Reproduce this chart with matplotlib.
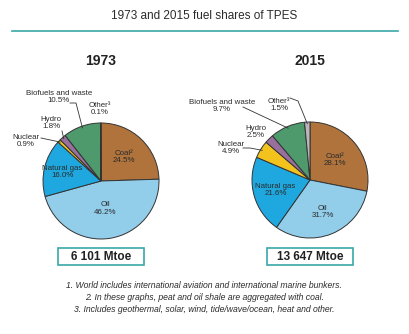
import matplotlib.pyplot as plt
import numpy as np
from matplotlib import font_manager
from matplotlib.patches import Rectangle

# data
fuels = ["Coal²", "Oil", "Natural gas", "Nuclear", "Hydro", "Biofuels and waste", "Other³"]
shares_1973 = [24.5, 46.2, 16.0, 0.9, 1.8, 10.5, 0.1]
shares_2015 = [28.1, 31.7, 21.6, 4.9, 2.5, 9.7, 1.5]
totals = ["6 101 Mtoe", "13 647 Mtoe"]
years = ["1973", "2015"]
colors = ["#b0733c", "#92cdea", "#1ea8df", "#f2c21d", "#98709e", "#4f9a6d", "#b8b8bc"]
footnotes = [
    "1. World includes international aviation and international marine bunkers.",
    "2. In these graphs, peat and oil shale are aggregated with coal.",
    "3. Includes geothermal, solar, wind, tide/wave/ocean, heat and other.",
]

installed = {f.name for f in font_manager.fontManager.ttflist}
if "Liberation Sans Narrow" in installed:
    LABEL_FONT, LABEL_SIZE = ["Liberation Sans Narrow", "DejaVu Sans"], 7
else:
    LABEL_FONT, LABEL_SIZE = ["Liberation Sans", "DejaVu Sans"], 5.7
plt.rcParams['font.family'] = ['Liberation Sans', 'DejaVu Sans']

W, H = 409, 334
fig = plt.figure(figsize=(W / 100, H / 100), dpi=100)


def px(x, y):
    return x / W, 1 - y / H


TXT = "#2b2b2b"

fig.text(*px(204, 16), "1973 and 2015 fuel shares of TPES", ha="center", va="center",
         fontsize=8.5, color=TXT)
fig.add_artist(plt.Line2D([12 / W, 398 / W], [1 - 31 / H] * 2, color="#3aa8a8", lw=1.2))

# pie centres (px) and radius
centres = [(101, 181), (310, 180)]
R = 58
# label positions for the small outer slices (figure px), per pie
outer = [
    {3: (26, 141), 4: (51, 123), 5: (59, 97), 6: (100, 109)},
    {3: (231, 148), 4: (256, 132), 5: (222, 106), 6: (279, 105)},
]
# leader line points (figure px), ending on the slice edge
leaders = [
    {3: [(41, 138)], 4: [(62, 131)], 5: [(70, 103), (76, 103)]},
    {3: [(243, 148), (250, 148)], 5: [(243, 107)], 6: [(290, 98), (298, 101)]},
]
inner = [[0.58, 0.48, 0.68], [0.55, 0.6, 0.62]]

for k, shares in enumerate([shares_1973, shares_2015]):
    cx, cy = centres[k]
    ax = fig.add_axes([(cx - R) / W, (H - cy - R) / H, 2 * R / W, 2 * R / H])
    wedges, _ = ax.pie(shares, colors=colors, startangle=90, counterclock=False,
                       wedgeprops=dict(edgecolor="#333333", linewidth=0.7))
    ax.set_xlim(-1, 1)
    ax.set_ylim(-1, 1)
    ax.axis("off")

    fig.text(*px(cx, 61), years[k], ha="center", va="center", fontsize=10,
             fontweight="bold", color="#222222")

    # total box
    bx = Rectangle(((cx - 43) / W, 1 - 265 / H), 86 / W, 17 / H, transform=fig.transFigure,
                   facecolor="white", edgecolor="#3aa8a8", lw=1.2)
    fig.add_artist(bx)
    fig.text(*px(cx, 257), totals[k], ha="center", va="center", fontsize=8.5,
             fontweight="bold", color="#222222")

    for i, w in enumerate(wedges):
        mid = np.deg2rad((w.theta1 + w.theta2) / 2)
        label = f"{fuels[i]}\n{shares[i]:.1f}%"
        if i < 3:
            r = inner[k][i]
            ax.text(r * np.cos(mid), r * np.sin(mid), label, ha="center", va="center",
                    fontsize=LABEL_SIZE, color=TXT, linespacing=1.05, family=LABEL_FONT)
        else:
            tx, ty = outer[k][i]
            fig.text(*px(tx, ty), label, ha="center", va="center",
                     fontsize=LABEL_SIZE, color=TXT, linespacing=1.05, family=LABEL_FONT)
            if i in leaders[k]:
                edge = ax.transData.transform((0.97 * np.cos(mid), 0.97 * np.sin(mid)))
                ex, ey = fig.transFigure.inverted().transform(edge)
                pts = [px(*p) for p in leaders[k][i]] + [(ex, ey)]
                xs, ys = zip(*pts)
                fig.add_artist(plt.Line2D(xs, ys, color="#333333", lw=0.6))

for j, note in enumerate(footnotes):
    fig.text(*px(204, 286 + 12 * j), note, ha="center", va="center", fontsize=6.2,
             style="italic", color=TXT)

fig.savefig("out.png", dpi=100)
